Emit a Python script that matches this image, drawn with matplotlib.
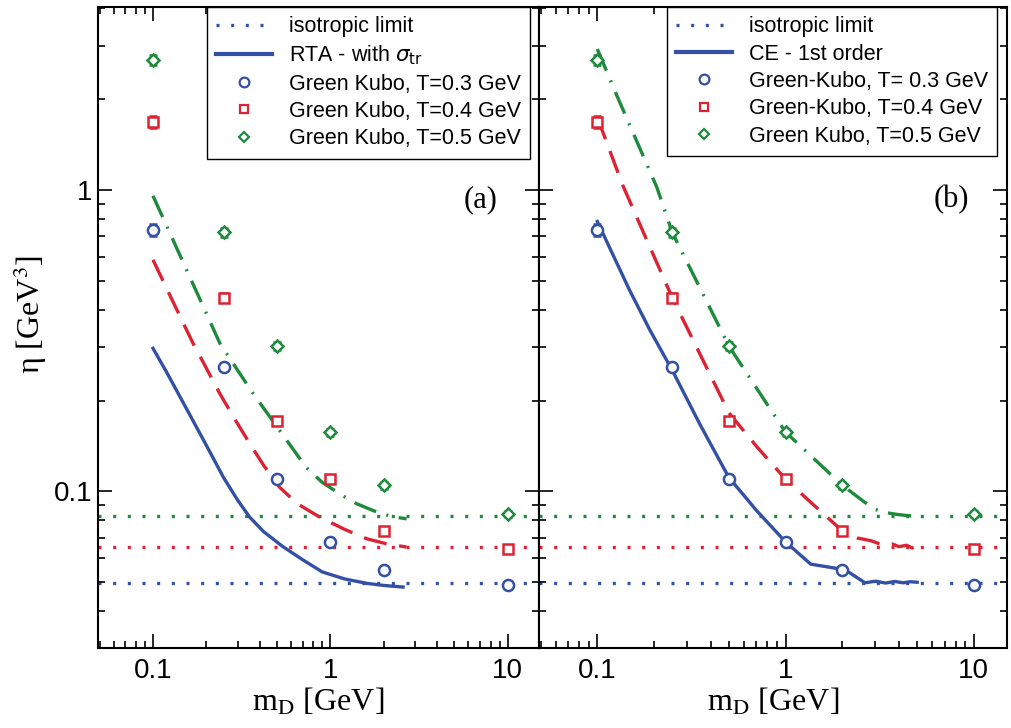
import numpy as np
import matplotlib
matplotlib.use("Agg")
import matplotlib.pyplot as plt
from matplotlib.font_manager import FontProperties
from matplotlib.ticker import LogLocator, NullFormatter, FixedLocator, FixedFormatter
from matplotlib.lines import Line2D

# ---------------- data ----------------
md_gk = [0.1, 0.25, 0.5, 1.0, 2.0, 10.0]
gk_T03 = [0.737, 0.258, 0.110, 0.0678, 0.0549, 0.0489]
gk_T04 = [1.68, 0.439, 0.171, 0.1096, 0.0739, 0.0643]
gk_T05 = [2.69, 0.722, 0.303, 0.157, 0.1047, 0.0839]
err_T03 = [0.035, 0.008, 0.003, 0.0015, 0.0015, 0.0012]
err_T04 = [0.08, 0.015, 0.005, 0.003, 0.002, 0.0015]
err_T05 = [0.10, 0.025, 0.009, 0.004, 0.003, 0.0018]

iso_T03 = 0.0496
iso_T04 = 0.0653
iso_T05 = 0.0826

# RTA - with sigma_tr (panel a)
rta_x03 = [0.1, 0.12, 0.15, 0.2, 0.25, 0.3, 0.35, 0.42, 0.54, 0.7, 0.9, 1.2, 1.6, 2.0, 2.57]
rta_y03 = [0.298, 0.247, 0.194, 0.142, 0.111, 0.0935, 0.0822, 0.0735, 0.0655, 0.0592,
           0.0540, 0.0512, 0.0495, 0.0487, 0.0481]
rta_x04 = [0.1, 0.13, 0.168, 0.2, 0.238, 0.29, 0.351, 0.42, 0.518, 0.65, 0.867, 1.2, 1.6, 2.1, 2.69]
rta_y04 = [0.586, 0.424, 0.31, 0.256, 0.211, 0.173, 0.144, 0.122, 0.103, 0.091, 0.0822,
           0.0748, 0.0696, 0.0668, 0.0653]
rta_x05 = [0.1, 0.128, 0.161, 0.2, 0.238, 0.3, 0.367, 0.518, 0.73, 0.9, 1.13, 1.4, 1.82, 2.2, 2.69]
rta_y05 = [0.955, 0.694, 0.515, 0.389, 0.31, 0.252, 0.211, 0.159, 0.120, 0.107, 0.098,
           0.091, 0.0854, 0.0825, 0.081]

# CE - 1st order (panel b)
ce_x03 = [0.1, 0.148, 0.19, 0.25, 0.352, 0.5, 0.7, 1.0, 1.36, 2.07, 2.64, 3.0, 3.4, 3.8, 4.2, 4.6, 5.0]
ce_y03 = [0.785, 0.466, 0.343, 0.252, 0.166, 0.111, 0.0864, 0.0679, 0.0573, 0.0549, 0.0497,
          0.0503, 0.0496, 0.0502, 0.0497, 0.0501, 0.0499]
ce_x04 = [0.1, 0.136, 0.18, 0.25, 0.35, 0.5, 0.7, 1.0, 1.4, 2.0, 2.4, 2.85, 3.3, 3.7, 4.0, 4.4, 4.7, 5.0]
ce_y04 = [1.74, 1.04, 0.698, 0.439, 0.286, 0.182, 0.141, 0.1096, 0.0904, 0.0739, 0.0700,
          0.0685, 0.0662, 0.0668, 0.0655, 0.0662, 0.0648, 0.0655]
ce_x05 = [0.1, 0.128, 0.207, 0.25, 0.35, 0.5, 0.7, 1.0, 1.4, 2.0, 2.64, 3.0, 3.4, 3.84, 4.3, 4.7, 5.1]
ce_y05 = [2.93, 2.03, 1.02, 0.722, 0.474, 0.303, 0.220, 0.157, 0.129, 0.1047, 0.0918,
          0.0870, 0.0850, 0.0839, 0.0832, 0.0828, 0.0826]

xticks = [0.1, 1, 10]
xticklabels = ["0.1", "1", "10"]
yticks = [0.1, 1]
yticklabels = ["0.1", "1"]

# ---------------- style ----------------
BLUE = "#3350a6"
RED = "#dd2233"
GREEN = "#1d8a3c"
SANS = "Liberation Sans"
SERIF = "Liberation Serif"

fig = plt.figure(figsize=(10.12, 7.28), dpi=100)
W, H = 1012.0, 728.0
ax_top, ax_bot = 7, 648
axa = fig.add_axes([98 / W, (H - ax_bot) / H, (539 - 98) / W, (ax_bot - ax_top) / H])
axb = fig.add_axes([539 / W, (H - ax_bot) / H, (1007 - 539) / W, (ax_bot - ax_top) / H])

LW = 2.4
dot = (0, (0.9, 3.5))
dash = (0, (7.0, 3.8))
dashdot = (0, (7.0, 3.2, 0.6, 3.2))


def common(ax, showy):
    ax.set_xscale("log")
    ax.set_yscale("log")
    ax.set_xlim(0.049, 15)
    ax.set_ylim(0.0302, 4.04)
    ax.xaxis.set_major_locator(FixedLocator(xticks))
    ax.xaxis.set_major_formatter(FixedFormatter(xticklabels))
    ax.yaxis.set_major_locator(FixedLocator(yticks))
    ax.yaxis.set_major_formatter(FixedFormatter(yticklabels if showy else ["", ""]))
    ax.xaxis.set_minor_locator(LogLocator(base=10, subs=np.arange(2, 10), numticks=20))
    ax.yaxis.set_minor_locator(LogLocator(base=10, subs=np.arange(2, 10), numticks=20))
    ax.xaxis.set_minor_formatter(NullFormatter())
    ax.yaxis.set_minor_formatter(NullFormatter())
    ax.tick_params(which="both", direction="in", top=True, right=True, width=1.2)
    ax.tick_params(which="major", length=10, labelsize=20)
    ax.tick_params(axis="x", which="major", pad=7)
    ax.tick_params(axis="y", which="major", pad=4)
    ax.tick_params(which="minor", length=5)
    for lab in ax.get_xticklabels() + ax.get_yticklabels():
        lab.set_family(SANS)
    for s in ax.spines.values():
        s.set_linewidth(1.5)
    ax.set_xlabel("m$_\\mathrm{D}$ [GeV]", family=SERIF, fontsize=23,
                  math_fontfamily="stix", labelpad=2)
    for val, c in [(iso_T03, BLUE), (iso_T04, RED), (iso_T05, GREEN)]:
        ax.axhline(val, color=c, lw=LW, linestyle=dot, zorder=1)


def points(ax):
    ax.errorbar(md_gk, gk_T03, yerr=err_T03, fmt="o", ms=8, mfc="white", mec=BLUE,
                mew=1.8, ecolor=BLUE, elinewidth=1.2, capsize=3, zorder=5)
    ax.errorbar(md_gk, gk_T04, yerr=err_T04, fmt="s", ms=7, mfc="white", mec=RED,
                mew=1.8, ecolor=RED, elinewidth=1.2, capsize=3, zorder=5)
    ax.errorbar(md_gk, gk_T05, yerr=err_T05, fmt="D", ms=6.5, mfc="white", mec=GREEN,
                mew=1.8, ecolor=GREEN, elinewidth=1.2, capsize=3, zorder=5)


common(axa, True)
common(axb, False)

axa.plot(rta_x03, rta_y03, color=BLUE, lw=LW, zorder=3)
axa.plot(rta_x04, rta_y04, color=RED, lw=LW, linestyle=dash, zorder=3)
axa.plot(rta_x05, rta_y05, color=GREEN, lw=LW, linestyle=dashdot, zorder=3)
points(axa)

axb.plot(ce_x03, ce_y03, color=BLUE, lw=LW, zorder=3)
axb.plot(ce_x04, ce_y04, color=RED, lw=LW, linestyle=dash, zorder=3)
axb.plot(ce_x05, ce_y05, color=GREEN, lw=LW, linestyle=dashdot, zorder=3)
points(axb)

axa.set_ylabel("η [GeV$^{3}$]", family=SERIF, fontsize=23, math_fontfamily="stix")
axa.yaxis.set_label_coords(-0.112, 0.52)

axa.text(0.868, 0.699, "(a)", transform=axa.transAxes, family=SERIF, fontsize=22,
         ha="center", va="center")
axb.text(0.882, 0.699, "(b)", transform=axb.transAxes, family=SERIF, fontsize=22,
         ha="center", va="center")


def handles(curve_label, names):
    return [
        Line2D([], [], color=BLUE, lw=LW, linestyle=dot, label="isotropic limit"),
        Line2D([], [], color=BLUE, lw=LW + 0.6, label=curve_label),
        Line2D([], [], color=BLUE, marker="o", ms=7, mfc="white", mew=1.6, lw=0, label=names[0]),
        Line2D([], [], color=RED, marker="s", ms=6, mfc="white", mew=1.6, lw=0, label=names[1]),
        Line2D([], [], color=GREEN, marker="D", ms=5.5, mfc="white", mew=1.6, lw=0, label=names[2]),
    ]


lprop = FontProperties(family=SANS, size=15.5, math_fontfamily="dejavusans")
for ax, lab, names, xr in [
    (axa, "RTA - with $\\sigma_\\mathrm{tr}$",
     ["Green Kubo, T=0.3 GeV", "Green Kubo, T=0.4 GeV", "Green Kubo, T=0.5 GeV"], 0.98),
    (axb, "CE - 1st order",
     ["Green-Kubo, T= 0.3 GeV", "Green-Kubo, T=0.4 GeV", "Green Kubo, T=0.5 GeV"], 0.979),
]:
    leg = ax.legend(handles=handles(lab, names), loc="upper right", bbox_to_anchor=(xr, 1.0),
                    borderaxespad=0, prop=lprop, frameon=True, fancybox=False,
                    edgecolor="black", framealpha=1, handlelength=2.6, handletextpad=0.8,
                    labelspacing=0.3, borderpad=0.42)
    leg.get_frame().set_linewidth(1.0)
    leg.set_zorder(10)

fig.savefig("out.png", dpi=100)
